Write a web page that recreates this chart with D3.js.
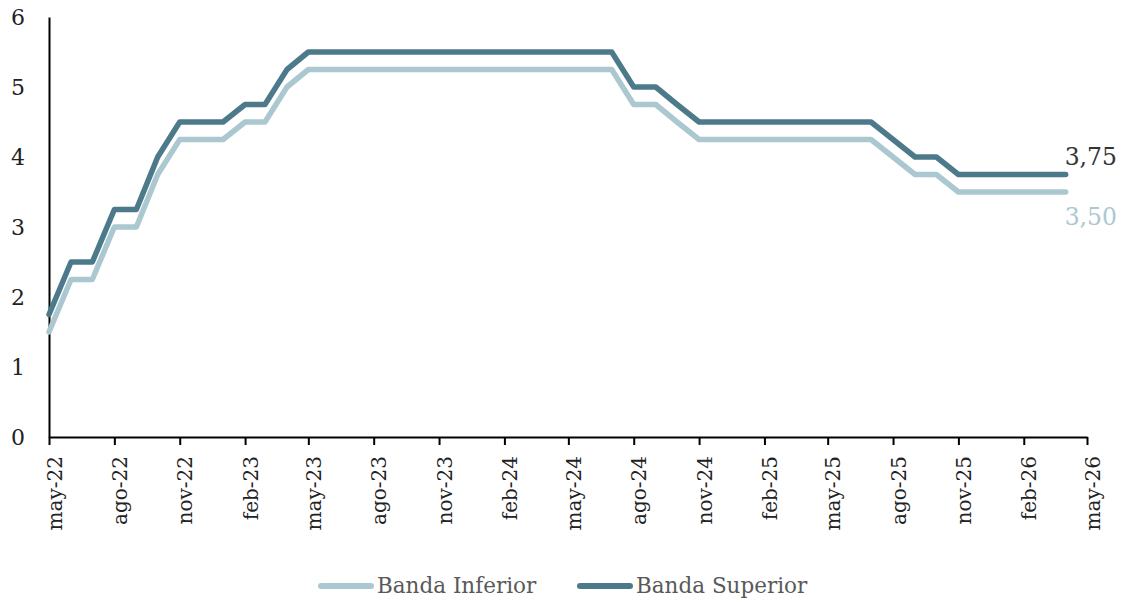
<!DOCTYPE html>
<html lang="es">
	<head>
		<meta charset="utf-8">
		<title>Banda Fed</title>
		<script type="text/javascript" src="https://d3js.org/d3.v7.min.js"></script>
		<style type="text/css">
		body{margin:0;background:#ffffff;}
		#chart text{font-family:"DejaVu Serif",serif;}
		</style>
	</head>
	<body>
	<div id="chart"></div>
	<script type="text/javascript">

    // monthly observations, may-22 .. apr-26
    var months = d3.timeMonth.range(new Date(2022,4,1), new Date(2026,4,1))

    var bandaSuperior = [1.75,2.5,2.5,3.25,3.25,4.0,4.5,4.5,4.5,4.75,4.75,5.25,
                         5.5,5.5,5.5,5.5,5.5,5.5,5.5,5.5,5.5,5.5,5.5,5.5,
                         5.5,5.5,5.5,5.0,5.0,4.75,4.5,4.5,4.5,4.5,4.5,4.5,
                         4.5,4.5,4.5,4.25,4.0,4.0,3.75,3.75,3.75,3.75,3.75,3.75]
    var bandaInferior = [1.5,2.25,2.25,3.0,3.0,3.75,4.25,4.25,4.25,4.5,4.5,5.0,
                         5.25,5.25,5.25,5.25,5.25,5.25,5.25,5.25,5.25,5.25,5.25,5.25,
                         5.25,5.25,5.25,4.75,4.75,4.5,4.25,4.25,4.25,4.25,4.25,4.25,
                         4.25,4.25,4.25,4.0,3.75,3.75,3.5,3.5,3.5,3.5,3.5,3.5]
    var mesesEs = ["ene","feb","mar","abr","may","jun","jul","ago","sep","oct","nov","dic"]
    var yTicks = [0,1,2,3,4,5,6]
    var seriesNames = ["Banda Inferior","Banda Superior"]
    var colors = ["#abc8d0","#4d7a8a"]

    var w = 1126
    var h = 602
    // plot area edges (don't call it "top", that's window.top)
    var padL = 49, padR = 1087, padT = 17, padB = 437

    var svg = d3.select("#chart")
        .append("svg")
        .attr("width",w)
        .attr("height",h)

    var xScale = d3.scaleTime()
        .domain([new Date(2022,4,1), new Date(2026,4,1)])
        .range([padL,padR])
    var yScale = d3.scaleLinear()
        .domain([0,6])
        .range([padB,padT])

    //x axis, every 3 months
    var xTickVals = d3.timeMonth.range(new Date(2022,4,1), new Date(2026,5,1), 3)
    var xAxis = d3.axisBottom(xScale)
        .tickValues(xTickVals)
        .tickSize(8)
        .tickSizeOuter(0)
        .tickFormat(function(d){
            return mesesEs[d.getMonth()] + "-" + d3.timeFormat("%y")(d)
        })

    //y axis, no ticks
    var yAxis = d3.axisLeft(yScale)
        .tickValues(yTicks)
        .tickSize(0)
        .tickPadding(24)
        .tickFormat(d3.format("d"))
    var gy = svg.append("g")
        .attr("transform","translate(" + padL + ",0)")
        .call(yAxis)
    gy.select(".domain").attr("stroke","#000").attr("stroke-width",2)
    gy.selectAll(".tick text")
        .style("font-size","22px")
        .attr("fill","#222")

    var gx = svg.append("g")
        .attr("transform","translate(0," + padB + ")")
        .call(xAxis)
    gx.select(".domain").attr("stroke","#000").attr("stroke-width",2)
    gx.selectAll(".tick line").attr("stroke","#000").attr("stroke-width",2)
    gx.selectAll(".tick text")
        .attr("transform","rotate(-90)")
        .attr("x",-19)
        .attr("y",12)
        .attr("dy",0)
        .style("text-anchor","end")
        .style("font-size","20px")
        .attr("fill","#222")

    //lines
    var line = d3.line()
        .x(function(d){ return xScale(d.date) })
        .y(function(d){ return yScale(d.value) })

    var series = [bandaInferior, bandaSuperior].map(function(vals, k){
        return {name: seriesNames[k], color: colors[k],
                values: vals.map(function(v,i){ return {date: months[i], value: v} })}
    })

    svg.selectAll("path.serie")
        .data(series)
        .enter()
        .append("path")
        .attr("class","serie")
        .attr("d",function(d){ return line(d.values) })
        .attr("fill","none")
        .attr("stroke",function(d){ return d.color })
        .attr("stroke-width",5.5)
        .attr("stroke-linecap","round")
        .attr("stroke-linejoin","round")

    //end labels
    var lastI = months.length - 1
    svg.append("text")
        .attr("x", xScale(months[lastI]) - 1)
        .attr("y", yScale(bandaSuperior[lastI]) - 10)
        .text(d3.format(".2f")(bandaSuperior[lastI]).replace(".",","))
        .style("font-size","23.5px")
        .attr("fill","#333333")
    svg.append("text")
        .attr("x", xScale(months[lastI]) - 1)
        .attr("y", yScale(bandaInferior[lastI]) + 33)
        .text(d3.format(".2f")(bandaInferior[lastI]).replace(".",","))
        .style("font-size","23.5px")
        .attr("fill",colors[0])

    //legend
    var legX = [318, 577]
    var leg = svg.selectAll("g.leg")
        .data(series)
        .enter()
        .append("g")
        .attr("class","leg")
        .attr("transform",function(d,i){ return "translate(" + legX[i] + ",586)" })
    leg.append("line")
        .attr("x1",3).attr("x2",53)
        .attr("y1",0).attr("y2",0)
        .attr("stroke",function(d){ return d.color })
        .attr("stroke-width",6)
        .attr("stroke-linecap","round")
    leg.append("text")
        .attr("x",59)
        .attr("y",7)
        .text(function(d){ return d.name })
        .style("font-size","21.5px")
        .attr("fill","#595959")

	</script>
	</body>
</html>
